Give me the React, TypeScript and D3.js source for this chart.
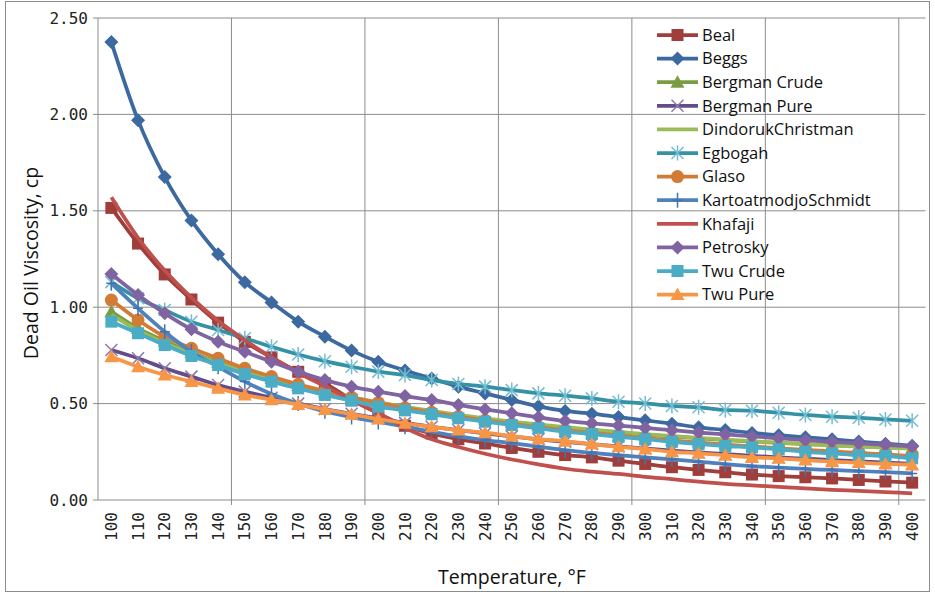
import React from 'react';
import * as d3 from 'd3';

const temps = [100, 110, 120, 130, 140, 150, 160, 170, 180, 190, 200, 210, 220, 230, 240, 250, 260, 270, 280, 290, 300, 310, 320, 330, 340, 350, 360, 370, 380, 390, 400];

const beal = [1.515, 1.33, 1.17, 1.04, 0.92, 0.82, 0.74, 0.665, 0.605, 0.52, 0.45, 0.385, 0.345, 0.315, 0.293, 0.27, 0.25, 0.233, 0.221, 0.204, 0.187, 0.17, 0.156, 0.144, 0.132, 0.124, 0.118, 0.112, 0.104, 0.096, 0.09];
const beggs = [2.375, 1.97, 1.675, 1.45, 1.275, 1.13, 1.025, 0.925, 0.847, 0.775, 0.717, 0.672, 0.63, 0.588, 0.553, 0.519, 0.486, 0.462, 0.448, 0.43, 0.413, 0.396, 0.377, 0.363, 0.348, 0.336, 0.325, 0.315, 0.303, 0.292, 0.282];
const bergmanCrude = [0.977, 0.89, 0.825, 0.765, 0.715, 0.668, 0.63, 0.593, 0.56, 0.53, 0.503, 0.48, 0.458, 0.438, 0.42, 0.403, 0.388, 0.374, 0.362, 0.35, 0.339, 0.329, 0.32, 0.311, 0.303, 0.296, 0.29, 0.284, 0.278, 0.273, 0.268];
const bergmanPure = [0.778, 0.735, 0.683, 0.64, 0.596, 0.562, 0.53, 0.5, 0.472, 0.447, 0.423, 0.4, 0.38, 0.362, 0.345, 0.33, 0.315, 0.302, 0.29, 0.278, 0.267, 0.256, 0.247, 0.238, 0.229, 0.221, 0.214, 0.207, 0.2, 0.194, 0.188];
const dindoruk = [0.96, 0.88, 0.815, 0.76, 0.71, 0.665, 0.627, 0.592, 0.56, 0.532, 0.506, 0.483, 0.462, 0.442, 0.424, 0.407, 0.392, 0.378, 0.365, 0.353, 0.342, 0.332, 0.322, 0.313, 0.305, 0.297, 0.29, 0.283, 0.277, 0.271, 0.266];
const egbogah = [1.13, 1.046, 0.985, 0.925, 0.882, 0.839, 0.795, 0.755, 0.72, 0.691, 0.666, 0.648, 0.622, 0.602, 0.588, 0.57, 0.553, 0.541, 0.527, 0.51, 0.501, 0.488, 0.481, 0.467, 0.463, 0.453, 0.441, 0.432, 0.427, 0.418, 0.411];
const glaso = [1.037, 0.934, 0.847, 0.787, 0.735, 0.683, 0.64, 0.6, 0.565, 0.533, 0.505, 0.478, 0.455, 0.433, 0.413, 0.395, 0.378, 0.362, 0.348, 0.334, 0.321, 0.309, 0.298, 0.287, 0.278, 0.268, 0.26, 0.252, 0.244, 0.237, 0.228];
const kartoatmodjo = [1.124, 0.994, 0.873, 0.769, 0.691, 0.614, 0.55, 0.5, 0.46, 0.43, 0.405, 0.38, 0.354, 0.33, 0.311, 0.295, 0.277, 0.259, 0.245, 0.233, 0.221, 0.211, 0.199, 0.186, 0.176, 0.168, 0.161, 0.156, 0.15, 0.145, 0.138];
const khafaji = [1.57, 1.36, 1.19, 1.05, 0.93, 0.83, 0.74, 0.66, 0.59, 0.52, 0.45, 0.375, 0.315, 0.275, 0.24, 0.21, 0.185, 0.162, 0.147, 0.135, 0.12, 0.108, 0.095, 0.084, 0.076, 0.068, 0.06, 0.053, 0.047, 0.041, 0.035];
const petrosky = [1.172, 1.063, 0.968, 0.885, 0.821, 0.769, 0.717, 0.666, 0.622, 0.588, 0.562, 0.539, 0.519, 0.493, 0.47, 0.45, 0.429, 0.41, 0.398, 0.386, 0.374, 0.362, 0.35, 0.34, 0.33, 0.32, 0.31, 0.302, 0.294, 0.286, 0.278];
const twuCrude = [0.925, 0.865, 0.804, 0.747, 0.7, 0.653, 0.614, 0.579, 0.545, 0.515, 0.484, 0.465, 0.445, 0.424, 0.406, 0.389, 0.372, 0.354, 0.342, 0.328, 0.315, 0.302, 0.29, 0.28, 0.273, 0.263, 0.25, 0.242, 0.233, 0.228, 0.216];
const twuPure = [0.743, 0.691, 0.648, 0.614, 0.579, 0.545, 0.52, 0.495, 0.47, 0.445, 0.42, 0.398, 0.38, 0.363, 0.349, 0.332, 0.316, 0.305, 0.29, 0.276, 0.264, 0.25, 0.242, 0.232, 0.221, 0.216, 0.207, 0.199, 0.194, 0.187, 0.182];

const yTicks = [0, 0.5, 1, 1.5, 2, 2.5];

type Series = { name: string; values: number[]; color: string; marker: string; markerColor?: string };

const series: Series[] = [
  { name: 'Beal', values: beal, color: '#A03E3B', marker: 'square' },
  { name: 'Beggs', values: beggs, color: '#3D69A1', marker: 'diamond' },
  { name: 'Bergman Crude', values: bergmanCrude, color: '#7A9C43', marker: 'triangle' },
  { name: 'Bergman Pure', values: bergmanPure, color: '#634C89', marker: 'x', markerColor: '#8A79AC' },
  { name: 'DindorukChristman', values: dindoruk, color: '#9BBB59', marker: 'none' },
  { name: 'Egbogah', values: egbogah, color: '#3592A6', marker: 'star', markerColor: '#74BDD0' },
  { name: 'Glaso', values: glaso, color: '#D27B37', marker: 'circle' },
  { name: 'KartoatmodjoSchmidt', values: kartoatmodjo, color: '#4F81BD', marker: 'plus', markerColor: '#3F74B4' },
  { name: 'Khafaji', values: khafaji, color: '#C0504D', marker: 'none' },
  { name: 'Petrosky', values: petrosky, color: '#8064A2', marker: 'diamond' },
  { name: 'Twu Crude', values: twuCrude, color: '#4BACC6', marker: 'square' },
  { name: 'Twu Pure', values: twuPure, color: '#F79646', marker: 'triangle' },
];

const W = 935;
const H = 594;
const plot = { left: 98, right: 925.5, top: 18, bottom: 500 };
const gridColor = '#8C8C8C';
const labelFont = '"DejaVu Sans Mono", monospace';
const titleFont = '"Open Sans", sans-serif';

function Marker({ type, color, x, y }: { type: string; color: string; x: number; y: number }) {
  const t = `translate(${x},${y})`;
  switch (type) {
    case 'square':
      return <rect x={x - 6} y={y - 6} width={12} height={12} fill={color} />;
    case 'diamond':
      return <path transform={t} d="M0,-7L7,0L0,7L-7,0Z" fill={color} />;
    case 'triangle':
      return <path transform={t} d="M0,-7L7,5.5L-7,5.5Z" fill={color} />;
    case 'circle':
      return <circle cx={x} cy={y} r={6.5} fill={color} />;
    case 'x':
      return <path transform={t} d="M-6,-6L6,6M-6,6L6,-6" stroke={color} strokeWidth={1.5} fill="none" />;
    case 'star':
      return <path transform={t} d="M-6,-6L6,6M-6,6L6,-6M0,-7.5L0,7.5" stroke={color} strokeWidth={1.5} fill="none" />;
    case 'plus':
      return <path transform={t} d="M-5,0L5,0M0,-7.5L0,7.5" stroke={color} strokeWidth={1.5} fill="none" />;
    default:
      return null;
  }
}

export default function App() {
  const x = d3.scaleBand<number>().domain(temps).range([plot.left, plot.right]).padding(0);
  const bw = x.bandwidth();
  const cx = (t: number) => (x(t) as number) + bw / 2;
  const y = d3.scaleLinear().domain([0, 2.5]).range([plot.bottom, plot.top]);

  const line = d3
    .line<number>()
    .x((_, i) => cx(temps[i]))
    .y((d) => y(d))
    .curve(d3.curveMonotoneX);

  // vertical grid every 5 categories (on category boundaries)
  const vGrid = temps.filter((_, i) => i > 0 && i % 5 === 0).map((t) => x(t) as number);

  return (
    <svg width={W} height={H} style={{ position: 'absolute', left: 0, top: 0, background: '#fff' }}>
      <rect x={5.5} y={1.5} width={924} height={590} fill="#fff" stroke="#8C8C8C" strokeWidth={1} />

      {/* horizontal grid */}
      {yTicks.map((v) => (
        <g key={'h' + v}>
          <line x1={plot.left - 5} x2={plot.right} y1={y(v)} y2={y(v)} stroke={gridColor} strokeWidth={1} />
          <text x={88} y={y(v)} dy="0.35em" textAnchor="end" fontFamily={labelFont} fontSize={16} fill="#222">
            {d3.format('.2f')(v)}
          </text>
        </g>
      ))}
      {vGrid.map((gx, i) => (
        <line key={'v' + i} x1={gx} x2={gx} y1={plot.top} y2={plot.bottom + 5} stroke={gridColor} strokeWidth={1} />
      ))}
      <line x1={plot.left} x2={plot.left} y1={plot.top} y2={plot.bottom} stroke={gridColor} strokeWidth={1} />

      {/* x tick labels */}
      {temps.map((t) => (
        <text
          key={'xt' + t}
          transform={`translate(${cx(t)},${plot.bottom + 12}) rotate(-90)`}
          textAnchor="end"
          dy="0.35em"
          fontFamily={labelFont}
          fontSize={16}
          fill="#222"
        >
          {t}
        </text>
      ))}

      {/* series */}
      {series.map((s) => (
        <g key={s.name}>
          <path d={line(s.values) || ''} fill="none" stroke={s.color} strokeWidth={3.75} strokeLinejoin="round" />
          {s.values.map((v, i) => (
            <Marker key={i} type={s.marker} color={s.markerColor || s.color} x={cx(temps[i])} y={y(v)} />
          ))}
        </g>
      ))}

      {/* legend */}
      {series.map((s, i) => {
        const ly = 35 + i * 23.6;
        return (
          <g key={'lg' + s.name}>
            <line x1={657} x2={698} y1={ly} y2={ly} stroke={s.color} strokeWidth={3.75} />
            <Marker type={s.marker} color={s.markerColor || s.color} x={677.5} y={ly} />
            <text x={702} y={ly} dy="0.35em" fontFamily={titleFont} fontSize={16.5} fill="#111">
              {s.name}
            </text>
          </g>
        );
      })}

      {/* axis titles */}
      <text
        transform={`translate(31,${(plot.top + plot.bottom) / 2 + 4}) rotate(-90)`}
        textAnchor="middle"
        dy="0.35em"
        fontFamily={titleFont}
        fontSize={19.5}
        fill="#111"
      >
        Dead Oil Viscosity, cp
      </text>
      <text x={512} y={577} textAnchor="middle" dy="0.35em" fontFamily={titleFont} fontSize={19.5} fill="#111">
        Temperature, °F
      </text>
    </svg>
  );
}
